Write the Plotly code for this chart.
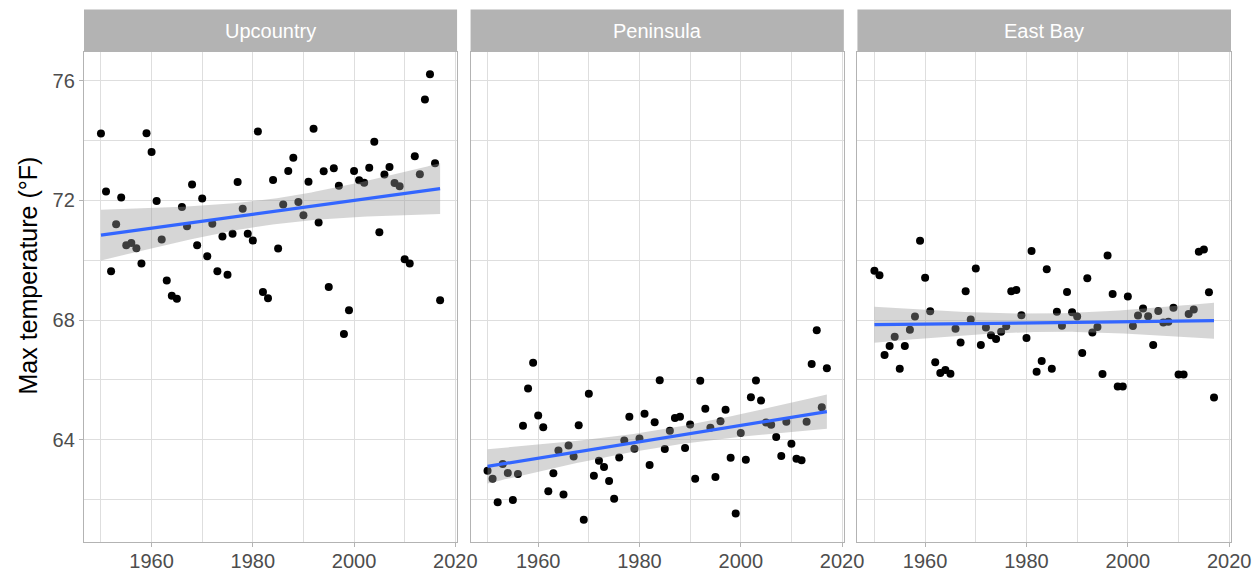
import numpy as np
import plotly.graph_objects as go

# Annual maximum temperature (°F) by region, 1950-2017
years = list(range(1950, 2018))
regions = ["Upcountry", "Peninsula", "East Bay"]

upcountry = [
    74.23, 72.29, 69.63, 71.20, 72.09, 70.50, 70.57, 70.40, 69.89, 74.24,
    73.61, 71.98, 70.69, 69.32, 68.81, 68.71, 71.78, 71.13, 72.53, 70.50,
    72.06, 70.13, 71.22, 69.63, 70.79, 69.51, 70.88, 72.61, 71.72, 70.88,
    70.66, 74.30, 68.94, 68.73, 72.68, 70.39, 71.86, 72.98, 73.42, 71.94,
    71.50, 72.62, 74.39, 71.26, 72.97, 69.10, 73.07, 72.49, 67.53, 68.33,
    72.98, 72.67, 72.59, 73.09, 73.96, 70.93, 72.86, 73.11, 72.58, 72.47,
    70.03, 69.89, 73.47, 72.87, 75.37, 76.21, 73.24, 68.66,
]
peninsula = [
    62.97, 62.70, 61.91, 63.19, 62.89, 61.99, 62.86, 64.47, 65.71, 66.57,
    64.81, 64.42, 62.28, 62.88, 63.64, 62.17, 63.81, 63.44, 64.49, 61.33,
    65.54, 62.80, 63.30, 63.09, 62.62, 62.03, 63.41, 63.98, 64.77, 63.70,
    64.04, 64.87, 63.16, 64.59, 65.99, 63.69, 64.30, 64.73, 64.77, 63.73,
    64.51, 62.70, 65.97, 65.04, 64.40, 62.76, 64.62, 65.00, 63.40, 61.54,
    64.23, 63.33, 65.42, 65.98, 65.31, 64.58, 64.50, 64.09, 63.46, 64.60,
    63.87, 63.37, 63.32, 64.60, 66.53, 67.66, 65.09, 66.39,
]
east_bay = [
    69.65, 69.50, 66.83, 67.13, 67.44, 66.37, 67.13, 67.68, 68.12, 70.65,
    69.41, 68.29, 66.59, 66.23, 66.33, 66.21, 67.71, 67.25, 68.96, 68.02,
    69.72, 67.17, 67.75, 67.49, 67.37, 67.61, 67.79, 68.96, 69.00, 68.16,
    67.40, 70.31, 66.27, 66.63, 69.70, 66.37, 68.28, 67.81, 68.94, 68.26,
    68.12, 66.90, 69.40, 67.58, 67.77, 66.20, 70.16, 68.87, 65.78, 65.78,
    68.79, 67.80, 68.15, 68.39, 68.13, 67.17, 68.30, 67.92, 67.94, 68.41,
    66.18, 66.18, 68.20, 68.35, 70.28, 70.36, 68.93, 65.41,
]
series = [upcountry, peninsula, east_bay]

x_ticks = [1960, 1980, 2000, 2020]
x_minor = [1950, 1970, 1990, 2010]
y_ticks = [64, 68, 72, 76]
y_minor = [62, 66, 70, 74]
y_title = "Max temperature (°F)"

FONT = "Liberation Sans"
T975 = 1.9966  # Student t quantile, 66 degrees of freedom


def linear_fit(x, y, n_grid=80):
    """OLS line with a 95% confidence band, like geom_smooth(method = 'lm')."""
    x = np.asarray(x, float)
    y = np.asarray(y, float)
    n = len(x)
    b1, b0 = np.polyfit(x, y, 1)
    resid = y - (b0 + b1 * x)
    s = np.sqrt(np.sum(resid ** 2) / (n - 2))
    xm = x.mean()
    sxx = np.sum((x - xm) ** 2)
    xs = np.linspace(x.min(), x.max(), n_grid)
    fit = b0 + b1 * xs
    se = s * np.sqrt(1.0 / n + (xs - xm) ** 2 / sxx)
    return xs, fit, fit - T975 * se, fit + T975 * se


# Shared scale limits with a 5% expansion on each side
all_y = np.concatenate([np.asarray(v, float) for v in series])
y_span = all_y.max() - all_y.min()
y_range = [all_y.min() - 0.05 * y_span, all_y.max() + 0.05 * y_span]
x_span = max(years) - min(years)
x_range = [min(years) - 0.05 * x_span, max(years) + 0.05 * x_span]

# Figure geometry in pixels
W, H = 1255, 573
left, right, top, bottom = 84.3, 1230.8, 51.7, 541.7
plot_w = right - left
plot_h = bottom - top
panels_px = [(84.3, 457.2), (470.7, 843.8), (857.4, 1230.8)]
domains = [((a - left) / plot_w, (b - left) / plot_w) for a, b in panels_px]
strip_top_px = 9.3
strip_hi = 1 + (top - strip_top_px) / plot_h
strip_mid = 1 + (top - (top + strip_top_px) / 2) / plot_h

fig = go.Figure()
layout = {}
shapes = []
annotations = []

grid_major = "#DEDEDE"
border = "#B3B3B3"

for i, (name, vals) in enumerate(zip(regions, series)):
    ax = "" if i == 0 else str(i + 1)
    xref, yref = "x" + ax, "y" + ax

    fig.add_trace(go.Scatter(
        x=years, y=vals, mode="markers",
        marker=dict(color="black", size=8, line=dict(width=0)),
        xaxis=xref, yaxis=yref, showlegend=False, hoverinfo="x+y",
    ))

    xs, fit, lo, hi = linear_fit(years, vals)
    fig.add_trace(go.Scatter(
        x=np.concatenate([xs, xs[::-1]]), y=np.concatenate([hi, lo[::-1]]),
        mode="lines", fill="toself", fillcolor="rgba(153,153,153,0.4)",
        line=dict(width=0), xaxis=xref, yaxis=yref, showlegend=False,
        hoverinfo="skip",
    ))
    fig.add_trace(go.Scatter(
        x=xs, y=fit, mode="lines", line=dict(color="#3366FF", width=3.2),
        xaxis=xref, yaxis=yref, showlegend=False, hoverinfo="skip",
    ))

    layout["xaxis" + ax] = dict(
        domain=list(domains[i]), range=x_range, anchor=yref,
        automargin=False,
        tickmode="array", tickvals=x_ticks, ticks="outside", ticklen=4,
        tickwidth=1.2, tickcolor=border, ticklabelstandoff=-3,
        tickfont=dict(family=FONT, size=20, color="#4D4D4D"),
        showgrid=True, gridcolor=grid_major, gridwidth=1,
        minor=dict(tickmode="array", tickvals=x_minor, showgrid=True,
                   gridcolor=grid_major, gridwidth=0.6, ticks=""),
        zeroline=False, showline=True, mirror=True, linecolor=border,
        linewidth=1.3,
    )
    layout["yaxis" + ax] = dict(
        domain=[0, 1], range=y_range, anchor=xref,
        automargin=False,
        tickmode="array", tickvals=y_ticks,
        ticks="outside" if i == 0 else "", ticklen=4, tickwidth=1.2,
        tickcolor=border, showticklabels=(i == 0),
        tickfont=dict(family=FONT, size=20, color="#4D4D4D"),
        showgrid=True, gridcolor=grid_major, gridwidth=1,
        minor=dict(tickmode="array", tickvals=y_minor, showgrid=True,
                   gridcolor=grid_major, gridwidth=0.6, ticks=""),
        zeroline=False, showline=True, mirror=True, linecolor=border,
        linewidth=1.3,
    )
    if i > 0:
        layout["yaxis" + ax]["matches"] = "y"

    # facet strip
    shapes.append(dict(
        type="rect", xref=xref + " domain", yref=yref + " domain",
        x0=0, x1=1, y0=1, y1=strip_hi, fillcolor="#B3B3B3",
        line=dict(width=0), layer="above",
    ))
    annotations.append(dict(
        text=name, xref=xref + " domain", yref=yref + " domain",
        x=0.5, y=strip_mid, xanchor="center", yanchor="middle",
        showarrow=False, font=dict(family=FONT, size=20, color="white"),
    ))

# y-axis title, centred on the panels plus strips
title_y_px = (strip_top_px + bottom) / 2
annotations.append(dict(
    text=y_title, xref="paper", yref="paper",
    x=(28 - left) / plot_w, y=(bottom - title_y_px) / plot_h,
    xanchor="center", yanchor="middle", textangle=-90, showarrow=False,
    font=dict(family=FONT, size=25, color="black"),
))

fig.update_layout(
    **layout,
    width=W, height=H, autosize=False,
    margin=dict(l=left, r=W - right, t=top, b=H - bottom, pad=0,
                autoexpand=False),
    paper_bgcolor="white", plot_bgcolor="white",
    shapes=shapes, annotations=annotations,
    font=dict(family=FONT),
)

fig.write_html("out.html", config={"displayModeBar": False})
